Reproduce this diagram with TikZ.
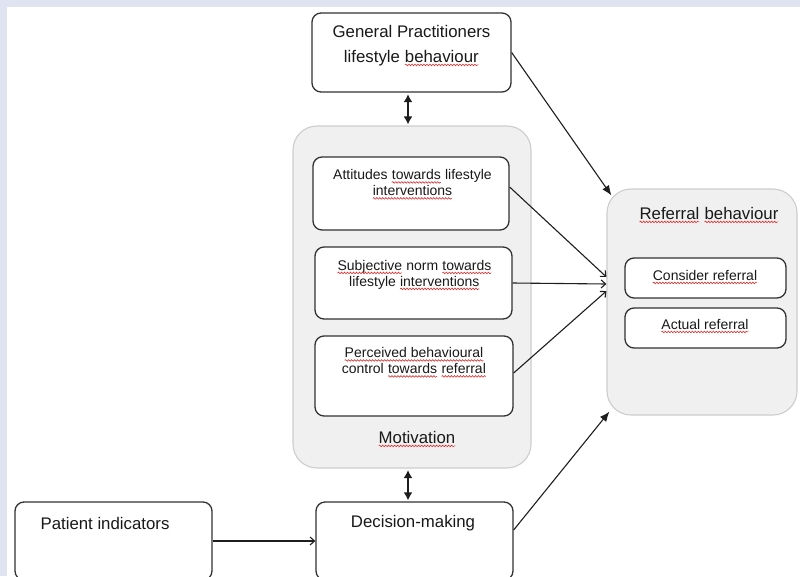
\documentclass[tikz,border=0pt]{standalone}
\usepackage{fontspec}
\setmainfont{Liberation Sans}
\usetikzlibrary{arrows.meta,calc,decorations.pathmorphing}
\definecolor{bgblue}{RGB}{224,228,242}
\definecolor{boxline}{RGB}{50,50,50}
\definecolor{contline}{RGB}{205,205,205}
\definecolor{contfill}{RGB}{240,240,240}
\definecolor{arrcol}{RGB}{30,30,30}
\definecolor{txtcol}{RGB}{25,25,25}
\definecolor{wavered}{RGB}{220,45,45}
\newcommand\rw[1]{\tikz[baseline=(wv.base)]{\node[inner sep=0pt, outer sep=0pt, anchor=base] (wv) {#1};
  \draw[wavered, line width=0.6pt, decorate, decoration={snake, amplitude=0.8pt, segment length=3pt}]
  ([yshift=-2.8pt]wv.base west) -- ([yshift=-2.8pt]wv.base east);}}
\begin{document}
\begin{tikzpicture}[x=1pt,y=-1pt,
  box/.style={draw=boxline, line width=1.3pt, rounded corners=9pt, fill=white, inner sep=0pt},
  cont/.style={draw=contline, line width=1.1pt, rounded corners=24pt, fill=contfill, inner sep=0pt},
  big/.style={font=\fontsize{16.8}{25}\selectfont, text=txtcol, align=center, inner sep=0pt},
  small/.style={font=\fontsize{14}{16}\selectfont, text=txtcol, align=center, inner sep=0pt},
  arr/.style={draw=arrcol, line width=1.1pt, -{Straight Barb[length=4.5pt,width=8pt]}},
  harr/.style={draw=arrcol, line width=1.1pt, -{Latex[length=10pt,width=8pt]}},
  darr/.style={draw=arrcol, line width=1.6pt, {Latex[length=8pt,width=9pt]}-{Latex[length=8pt,width=9pt]}}]
\useasboundingbox (0,0) rectangle (800,576);
\fill[bgblue] (0,0) rectangle (800,576);
\fill[white] (7,7) rectangle (800,576);
\begin{scope}
\clip (0,0) rectangle (800,576);
% containers
\node[cont, minimum width=238pt, minimum height=342pt] (mot) at (412,297) {};
\node[cont, minimum width=190pt, minimum height=226pt] (ref) at (702,302) {};
% boxes
\node[box, minimum width=199pt, minimum height=79pt] (gp) at (411.5,52.5) {};
\node[box, minimum width=196pt, minimum height=73pt] (att) at (411,193.5) {};
\node[box, minimum width=197pt, minimum height=72pt] (sub) at (413.5,283) {};
\node[box, minimum width=198pt, minimum height=80pt] (per) at (414,376) {};
\node[box, minimum width=161pt, minimum height=40pt] (con) at (705.5,278) {};
\node[box, minimum width=161pt, minimum height=40pt] (act) at (705.5,328) {};
\node[box, minimum width=197pt, minimum height=78pt] (dec) at (414.5,541) {};
\node[box, minimum width=197pt, minimum height=78pt] (pat) at (113.5,541) {};
% texts
\node[big] (gpT) at (411.5,45.5) {General Practitioners\\lifestyle \rw{behaviour}};
\node[small] (attT) at (412.5,184.5) {Attitudes \rw{towards} lifestyle\\\rw{interventions}};
\node[small] (subT) at (414.5,275) {\rw{Subjective} norm \rw{towards}\\lifestyle \rw{interventions}};
\node[small] (perT) at (414,362.5) {\rw{Perceived behavioural}\\control \rw{towards} \rw{referral}};
\node[big] (motT) at (417,439) {\rw{Motivation}};
\node[big] (refT) at (709,215) {\rw{Referral} \rw{behaviour}};
\node[small] (conT) at (705,277) {\rw{Consider referral}};
\node[small] (actT) at (705,326) {\rw{Actual referral}};
\node[big] (patT) at (105,523) {Patient indicators};
\node[big] (decT) at (413,523) {Decision-making};
% connectors
\draw[harr] (gp.east) -- ([xshift=5pt,yshift=-7pt]ref.north west);
\draw[arr] ([yshift=6.5pt]att.east) -- ([yshift=25pt]ref.west);
\draw[arr] (sub.east) -- ([yshift=18pt]ref.west);
\draw[arr] ([yshift=3pt]per.east) -- ([yshift=11pt]ref.west);
\draw[harr] ([yshift=11pt]dec.east) -- ([xshift=3pt,yshift=4pt]ref.south west);
\draw[arr] (pat.east) -- (dec.west);
\draw[darr, shorten <=1.5pt, shorten >=1pt] ([xshift=-3.5pt]gp.south) -- ([xshift=-4pt]mot.north);
\draw[darr, shorten <=1.5pt, shorten >=1pt] ([xshift=-4pt]mot.south) -- ([xshift=-6.5pt]dec.north);
\end{scope}
\end{tikzpicture}
\end{document}
